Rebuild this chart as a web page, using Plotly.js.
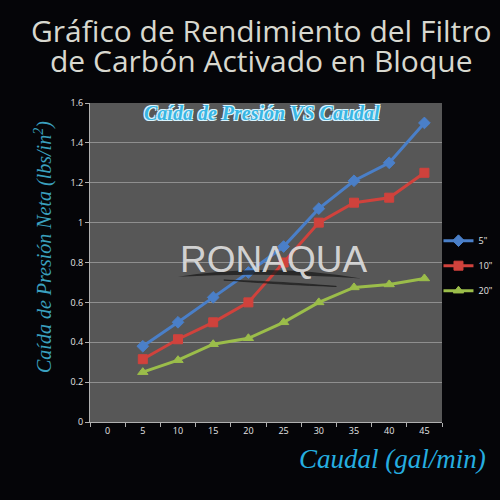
<!DOCTYPE html>
<html>
<head>
<meta charset="utf-8">
<script src="https://cdn.plot.ly/plotly-3.0.1.min.js"></script>
<style>html,body{margin:0;padding:0;background:#050508;}</style>
</head>
<body>
<div id="chart" style="width:500px;height:500px;"></div>
<script>
var categories = ["0","5","10","15","20","25","30","35","40","45"];
var caudal = ["5","10","15","20","25","30","35","40","45"];
var serie5 = [0.38, 0.50, 0.625, 0.75, 0.88, 1.07, 1.21, 1.30, 1.50];
var serie10 = [0.315, 0.415, 0.50, 0.60, 0.80, 1.00, 1.10, 1.125, 1.25];
var serie20 = [0.25, 0.31, 0.39, 0.42, 0.50, 0.60, 0.675, 0.69, 0.72];
var seriesNames = ['5"', '10"', '20"'];
var yTicks = [0, 0.2, 0.4, 0.6, 0.8, 1, 1.2, 1.4, 1.6];
var titleLines = ['Gráfico de Rendimiento del Filtro', 'de Carbón Activado en Bloque'];

function trace(y, name, color, symbol, group) {
  return {
    x: caudal, y: y, name: name, type: 'scatter', mode: 'lines+markers',
    legendgroup: group,
    line: {color: color, width: 3},
    marker: {color: color, symbol: symbol, size: 9, line: {color: color, width: 1}}
  };
}
var data = [
  trace(serie5, seriesNames[0], '#4a7fc8', 'diamond', 'a'),
  trace(serie10, seriesNames[1], '#d0423c', 'square', 'b'),
  trace(serie20, seriesNames[2], '#9bbd4a', 'triangle-up', 'c')
];

var titleFont = {family: 'Open Sans, sans-serif', size: 30, color: '#d8d8cf'};

var layout = {
  width: 500, height: 500,
  paper_bgcolor: '#050508',
  plot_bgcolor: '#575757',
  margin: {l: 90, r: 58, t: 103, b: 78, autoexpand: false},
  font: {family: 'Open Sans, sans-serif', color: '#e6e6e6', size: 9},
  showlegend: true,
  legend: {
    x: 0.99, xanchor: 'left', y: 0.49, yanchor: 'middle',
    bgcolor: 'rgba(0,0,0,0)', font: {size: 9, color: '#e6e6e6', family: 'Open Sans, sans-serif'},
    traceorder: 'grouped', tracegroupgap: 6, itemwidth: 30
  },
  xaxis: {
    type: 'category', categoryorder: 'array', categoryarray: categories,
    range: [-0.5, 9.5], tickson: 'boundaries',
    ticks: 'outside', ticklen: 4, tickcolor: '#b0b0b0',
    showline: true, linecolor: '#b0b0b0', linewidth: 1,
    showgrid: false, zeroline: false, fixedrange: true,
    tickfont: {size: 9, color: '#e6e6e6'}
  },
  yaxis: {
    range: [0, 1.6], tickvals: yTicks, ticks: 'outside', ticklen: 4, tickcolor: '#b0b0b0',
    showline: true, linecolor: '#b0b0b0', linewidth: 1,
    gridcolor: '#8f8f8f', gridwidth: 1, zeroline: false,
    tickfont: {size: 9, color: '#e6e6e6'}
  },
  annotations: [
    {
      text: titleLines[0], xref: 'paper', yref: 'paper', x: (261 - 90) / 352, y: (422 - 31) / 319,
      xanchor: 'center', yanchor: 'middle', showarrow: false, font: titleFont
    },
    {
      text: titleLines[1], xref: 'paper', yref: 'paper', x: (261 - 90) / 352, y: (422 - 61) / 319,
      xanchor: 'center', yanchor: 'middle', showarrow: false, font: titleFont
    },
    {
      text: '<i>Caída de Presión Neta (lbs/in<sup>2</sup>)</i>', xref: 'paper', yref: 'paper',
      x: (43 - 90) / 352, y: (422 - 247) / 319, textangle: -90,
      xanchor: 'center', yanchor: 'middle', showarrow: false,
      font: {family: 'Liberation Serif, serif', size: 20, color: '#3aa0bf'}
    },
    {
      text: 'RONAQUA', xref: 'paper', yref: 'paper', x: 0.52, y: 0.51,
      xanchor: 'center', yanchor: 'middle', showarrow: false,
      font: {family: 'Liberation Sans, Arial, sans-serif', size: 37, color: 'rgba(222,222,222,0.92)'}
    },
    {
      text: '<b><i>Caída de Presión VS Caudal</i></b>', xref: 'paper', yref: 'paper',
      x: 0.49, y: 0.97, xanchor: 'center', yanchor: 'middle', showarrow: false,
      font: {family: 'Liberation Serif, serif', size: 20, color: '#39b6e3',
             shadow: '1px 1px 0 #d8f4ff, -1px -1px 0 #d8f4ff, 1px -1px 0 #d8f4ff, -1px 1px 0 #d8f4ff'}
    },
    {
      text: '<i>Caudal (gal/min)</i>', xref: 'paper', yref: 'paper',
      x: 0.858, y: -0.115, xanchor: 'center', yanchor: 'middle', showarrow: false,
      font: {family: 'Liberation Serif, serif', size: 27, color: '#25aee0'}
    }
  ],
  shapes: [
    {
      type: 'path', xref: 'paper', yref: 'paper', layer: 'above',
      path: 'M 0.25 0.455 Q 0.5 0.5 0.77 0.45 Q 0.5 0.47 0.25 0.455 Z',
      fillcolor: 'rgba(25,25,25,0.75)', line: {width: 0}
    },
    {
      type: 'path', xref: 'paper', yref: 'paper', layer: 'above',
      path: 'M 0.38 0.445 Q 0.55 0.43 0.70 0.425 Q 0.55 0.44 0.38 0.445 Z',
      fillcolor: 'rgba(25,25,25,0.6)', line: {color: 'rgba(25,25,25,0.6)', width: 1}
    }
  ]
};

Plotly.newPlot('chart', data, layout, {displayModeBar: false, staticPlot: true});
</script>
</body>
</html>
